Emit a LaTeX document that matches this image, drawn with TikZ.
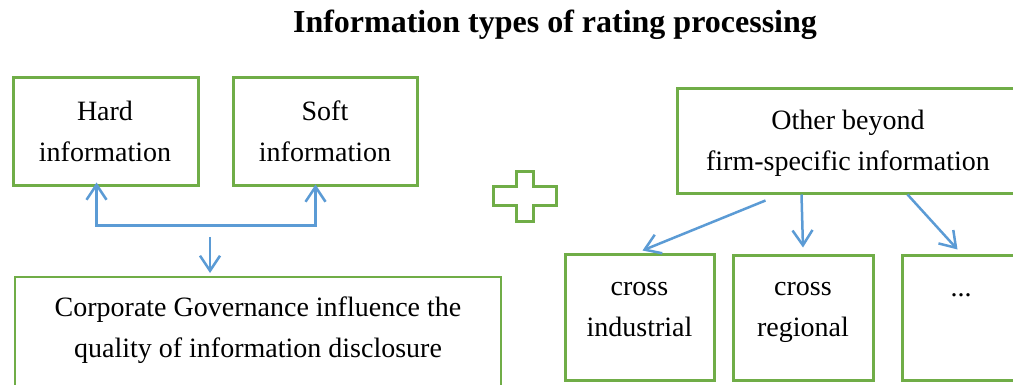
\documentclass[tikz,border=0pt]{standalone}
\usepackage{fontspec}
\setmainfont{Liberation Serif}
\usetikzlibrary{arrows.meta,calc}
\definecolor{gr}{RGB}{112,173,71}
\definecolor{bl}{RGB}{91,155,213}
\begin{document}
\begin{tikzpicture}[x=1pt,y=-1pt,
  box/.style={draw=gr,line width=3pt,inner sep=0pt},
  txt/.style={font=\fontsize{28}{41}\selectfont,align=center,inner sep=0pt,text=black},
  arr/.style={draw=bl,line width=2.5pt,-{Straight Barb[length=15pt,width=20pt]}},
  darr/.style={draw=bl,line width=2.5pt,{Straight Barb[length=15pt,width=20pt]}-{Straight Barb[length=15pt,width=20pt]}}]
\useasboundingbox (0,0) rectangle (1013,385);
\clip (0,0) rectangle (1013,385);
\fill[white] (0,0) rectangle (1013,385);
% title
\node[font=\fontsize{32}{38}\selectfont\bfseries,anchor=base,inner sep=0pt] (title) at (555,33) {Information types of rating processing};
% left group
\node[box,minimum width=185pt,minimum height=108pt] (hard) at (105.5,132) {};
\node[txt] (hardt) at (105,133) {\strut Hard\\\strut information};
\node[box,minimum width=184pt,minimum height=108pt] (soft) at (325,132) {};
\node[txt] (softt) at (325,133) {\strut Soft\\\strut information};
\node[box,line width=2pt,minimum width=486pt,minimum height=118pt] (corp) at (258,336) {};
\node[txt] (corpt) at (258,328.8) {\strut Corporate Governance influence the\\\strut quality of information disclosure};
% plus sign
\draw[gr,line width=3pt] (516,172) -- (533,172) -- (533,187) -- (556,187) -- (556,206) -- (533,206) -- (533,222) -- (516,222) -- (516,206) -- (493,206) -- (493,187) -- (516,187) -- cycle;
% right group
\node[box,minimum width=360pt,minimum height=105pt] (other) at (857,141.5) {};
\node[txt] (othert) at (848,141.8) {\strut Other beyond\\\strut firm-specific information};
\node[box,minimum width=149pt,minimum height=126pt] (ci) at (639.5,317) {};
\node[txt] (cit) at (639.5,307.8) {\strut cross\\\strut industrial};
\node[box,minimum width=140pt,minimum height=125pt] (cr) at (803,317.5) {};
\node[txt] (crt) at (803,307.8) {\strut cross\\\strut regional};
\node[box,minimum width=140pt,minimum height=125pt] (dots) at (972,317.5) {};
\node[txt,anchor=base] (dotst) at (961,296) {...};
% connectors left
\coordinate (hA) at ($(hard.south west)+(85,-5)$);
\coordinate (sA) at ($(soft.south west)+(84,-3)$);
\coordinate (fk) at ($(hard.south)+(0,38)$);
\draw[darr] (hA) -- (hA |- fk) -- (sA |- fk) -- (sA);
\coordinate (dS) at ($(corp.north west)+(196,-39)$);
\draw[arr] (dS) -- ($(dS |- corp.north)+(0,-3)$);
% connectors right
\draw[arr] ($(other.south west)+(90,5)$) -- ($(ci.north west)+(79,-2)$);
\draw[arr] ($(other.south west)+(126,-1)$) -- ($(cr.north)+(0,-6)$);
\draw[arr] ($(other.south west)+(232,-1)$) -- ($(dots.north west)+(57,-4)$);
\end{tikzpicture}
\end{document}
